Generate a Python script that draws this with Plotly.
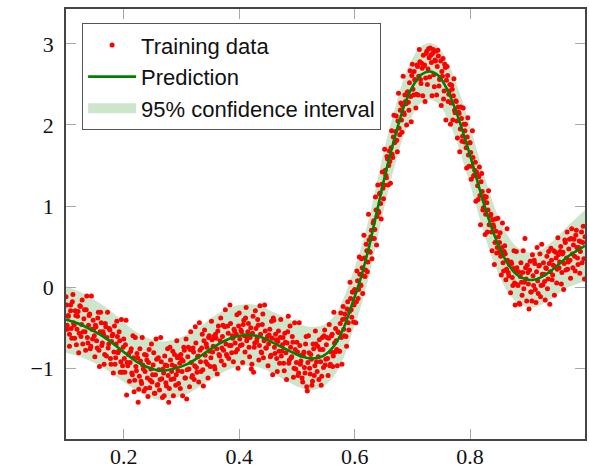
import plotly.graph_objects as go

# ---- Prediction (GP mean) ----
pred_x = [0.100, 0.125, 0.150, 0.175, 0.200, 0.225, 0.250, 0.265, 0.285, 0.310,
          0.335, 0.360, 0.385, 0.410, 0.435, 0.460, 0.485, 0.510, 0.525, 0.545,
          0.565, 0.580, 0.595, 0.610, 0.625, 0.640, 0.655, 0.670, 0.685, 0.700,
          0.715, 0.730, 0.745, 0.760, 0.775, 0.790, 0.805, 0.820, 0.835, 0.850,
          0.865, 0.880, 0.895, 0.910, 0.925, 0.940, 0.955, 0.970, 0.985, 0.999]
pred_y = [-0.40, -0.46, -0.55, -0.66, -0.80, -0.93, -1.01, -1.03, -1.01, -0.95,
          -0.84, -0.72, -0.63, -0.59, -0.61, -0.69, -0.78, -0.86, -0.88, -0.85,
          -0.72, -0.52, -0.22, 0.10, 0.50, 0.98, 1.45, 1.86, 2.22, 2.47,
          2.62, 2.66, 2.61, 2.44, 2.18, 1.86, 1.50, 1.12, 0.78, 0.50,
          0.29, 0.16, 0.10, 0.09, 0.13, 0.20, 0.29, 0.38, 0.45, 0.51]
ci_half = [0.41, 0.40, 0.39, 0.38, 0.37, 0.36, 0.36, 0.36, 0.36, 0.37,
           0.37, 0.38, 0.38, 0.38, 0.38, 0.38, 0.39, 0.39, 0.39, 0.38,
           0.37, 0.37, 0.36, 0.36, 0.36, 0.36, 0.36, 0.35, 0.35, 0.35,
           0.35, 0.35, 0.35, 0.35, 0.35, 0.36, 0.36, 0.36, 0.36, 0.35,
           0.35, 0.34, 0.34, 0.34, 0.34, 0.35, 0.36, 0.38, 0.41, 0.44]

# ---- Training data read (approximately) from the picture, first half ----
train_x_a = [
 0.101,0.102,0.104,0.106,0.108,0.109, 0.111,0.113,0.115,0.117,0.119, 0.121,0.123,0.125,0.127,0.129,
 0.131,0.133,0.135,0.137,0.139, 0.141,0.143,0.145,0.147,0.149, 0.151,0.153,0.155,0.157,0.159,
 0.161,0.163,0.165,0.167,0.169, 0.171,0.173,0.175,0.177,0.179, 0.181,0.183,0.185,0.187,0.189,
 0.191,0.193,0.195,0.197,0.199, 0.201,0.203,0.205,0.207,0.209, 0.211,0.213,0.215,0.217,0.219,
 0.221,0.223,0.225,0.227,0.229, 0.231,0.233,0.235,0.237,0.239, 0.241,0.243,0.245,0.247,0.249,
 0.251,0.253,0.255,0.257,0.259, 0.261,0.263,0.265,0.267,0.269, 0.271,0.273,0.275,0.277,0.279,
 0.281,0.283,0.285,0.287,0.289, 0.291,0.293,0.295,0.297,0.299, 0.301,0.303,0.305,0.307,0.309,
 0.311,0.313,0.315,0.317,0.319, 0.321,0.323,0.325,0.327,0.329, 0.331,0.333,0.335,0.337,0.339,
 0.341,0.343,0.345,0.347,0.349, 0.351,0.353,0.355,0.357,0.359, 0.361,0.363,0.365,0.367,0.369,
 0.371,0.373,0.375,0.377,0.379, 0.381,0.383,0.385,0.387,0.389, 0.391,0.393,0.395,0.397,0.399,
 0.401,0.403,0.405,0.407,0.409, 0.411,0.413,0.415,0.417,0.419, 0.421,0.423,0.425,0.427,0.429,
 0.431,0.433,0.435,0.437,0.439, 0.441,0.443,0.445,0.447,0.449, 0.451,0.453,0.455,0.457,0.459,
 0.461,0.463,0.465,0.467,0.469, 0.471,0.473,0.475,0.477,0.479, 0.481,0.483,0.485,0.487,0.489,
 0.491,0.493,0.495,0.497,0.499, 0.501,0.503,0.505,0.507,0.509, 0.511,0.513,0.515,0.517,0.519,
 0.521,0.523,0.525,0.527,0.529, 0.531,0.533,0.535,0.537,0.539, 0.541,0.543,0.545,0.547,0.549,
 0.551,0.553,0.555,0.557,0.559, 0.561,0.563,0.565,0.567,0.569, 0.571,0.573,0.575,0.577,0.579,
 0.581,0.583,0.585,0.587,0.589, 0.591,0.593,0.595,0.597,0.599, 0.601,0.603,0.605,0.607,0.609,
 0.611,0.613,0.615,0.617,0.619, 0.621,0.623,0.625,0.627,0.629, 0.631,0.633,0.635,0.637,0.639,
 0.641,0.643,0.645,0.647,0.649, 0.651,0.653,0.655,0.657,0.659, 0.661,0.663,0.665,0.667,0.669,
 0.671,0.673,0.675,0.677,0.679, 0.681,0.683,0.685,0.687,0.689, 0.691,0.693,0.695,0.697,0.699,
 0.701,0.703,0.705,0.707,0.709, 0.711,0.713,0.715,0.717,0.719, 0.721,0.723,0.725,0.727,0.729,
 0.731,0.733,0.735,0.737,0.739, 0.741,0.743,0.745,0.747,0.749, 0.751,0.753,0.755,0.757,0.759,
 0.761,0.763,0.765,0.767,0.769, 0.771,0.773,0.775,0.777,0.779, 0.781,0.783,0.785,0.787,0.789,
 0.791,0.793,0.795,0.797,0.799, 0.801,0.803,0.805,0.807,0.809, 0.811,0.813,0.815,0.817,0.819,
 0.821,0.823,0.825,0.827,0.829, 0.831,0.833,0.835,0.837,0.839, 0.841,0.843,0.845,0.847,0.849,
 0.851,0.853,0.855,0.857,0.859, 0.861,0.863,0.865,0.867,0.869, 0.871,0.873,0.875,0.877,0.879,
 0.881,0.883,0.885,0.887,0.889, 0.891,0.893,0.895,0.897,0.899, 0.901,0.903,0.905,0.907,0.909,
 0.911,0.913,0.915,0.917,0.919, 0.921,0.923,0.925,0.927,0.929, 0.931,0.933,0.935,0.937,0.939,
 0.941,0.943,0.945,0.947,0.949, 0.951,0.953,0.955,0.957,0.959, 0.961,0.963,0.965,0.967,0.969,
 0.971,0.973,0.975,0.977,0.979, 0.981,0.983,0.985,0.987,0.989, 0.991,0.993,0.995,0.997,0.999]
train_y_a = [
 -0.22,-0.47,-0.36,-0.58,-0.29,-0.51, -0.18,-0.44,-0.63,-0.35,-0.52, -0.30,-0.57,-0.24,-0.46,-0.70,
 -0.39,-0.55,-0.28,-0.62,-0.47, -0.33,-0.73,-0.52,-0.41,-0.60, -0.47,-0.66,-0.38,-0.78,-0.55,
 -0.44,-0.69,-0.58,-0.83,-0.49, -0.62,-0.75,-0.51,-0.88,-0.67, -0.58,-0.80,-0.95,-0.70,-0.61,
 -0.79,-0.66,-0.92,-1.05,-0.74, -0.88,-0.71,-1.33,-0.97,-0.82, -0.93,-0.76,-1.08,-0.87,-1.15,
 -0.98,-0.82,-1.42,-1.10,-0.91, -1.19,-0.96,-1.28,-1.04,-0.84, -1.12,-0.93,-1.24,-1.01,-1.17,
 -0.96,-1.31,-1.08,-0.89,-1.20, -1.02,-1.14,-0.92,-1.36,-1.06, -0.85,-1.18,-0.97,-1.09,-1.25,
 -0.90,-1.04,-0.79,-1.13,-0.98, -1.08,-0.87,-1.19,-0.94,-0.83, -1.04,-0.91,-0.78,-1.12,-1.38,
 -0.86,-1.01,-0.77,-0.93,-1.09, -0.80,-0.97,-0.69,-1.05,-0.85, -0.44,-0.92,-0.75,-1.02,-0.66,
 -0.84,-0.70,-0.95,-0.62,-0.79, -0.87,-0.65,-0.73,-0.98,-0.58, -0.76,-0.54,-0.83,-0.66,-0.91,
 -0.61,-0.78,-0.49,-0.70,-0.85, -0.57,-0.72,-0.45,-0.81,-0.63, -0.52,-0.69,-0.58,-0.77,-0.48,
 -0.64,-0.53,-0.71,-0.46,-0.60, -0.38,-0.66,-0.55,-0.74,-0.62, -1.01,-0.57,-1.05,-0.69,-0.51,
 -0.63,-0.47,-0.72,-0.58,-0.81, -0.33,-0.66,-0.54,-0.75,-0.61, -0.70,-0.52,-0.84,-0.63,-0.38,
 -0.74,-0.58,-0.88,-0.67,-0.79, -0.62,-0.85,-0.71,-0.94,-0.57, -0.81,-0.69,-0.36,-0.90,-0.74,
 -0.86,-0.68,-1.00,-0.77,-0.93, -0.80,-1.06,-0.72,-0.91,-1.12, -0.84,-0.99,-0.70,-1.23,-0.93,
 -0.81,-1.07,-0.89,-1.16,-0.76, -0.97,-0.70,-1.04,-0.86,-0.65, -0.92,-1.10,-0.77,-0.60,-0.96,
 -0.71,-0.88,-0.63,-0.97,-0.80, -0.58,-0.85,-0.69,-0.51,-0.77, -0.55,-0.79,-0.45,-0.62,-0.40,
 -0.52,-0.33,-0.61,-0.27,-0.44, -0.30,-0.14,-0.37,-0.06,-0.22, -0.05,-0.18,0.08,-0.03,0.16,
 0.02,0.24,0.14,0.36,0.21, 0.45,0.31,0.58,0.43,0.70, 0.60,0.82,0.71,0.95,0.87,
 0.94,1.15,1.03,1.27,1.22, 1.26,1.44,1.35,1.58,1.50, 1.55,1.72,1.64,1.85,1.78,
 1.92,1.81,2.05,1.96,2.18, 2.06,2.24,2.15,2.37,2.26, 2.40,2.28,2.52,2.35,2.61,
 2.44,2.66,2.55,2.38,2.72, 2.60,2.78,2.51,2.70,2.86, 2.74,2.58,2.91,2.69,2.83,
 2.95,2.77,2.88,2.62,2.80, 2.91,2.72,2.85,2.56,2.79, 2.66,2.82,2.42,2.71,2.55,
 2.61,2.38,2.50,2.27,2.44, 2.36,2.18,2.30,2.05,2.22, 2.14,1.95,2.08,1.86,2.01,
 1.93,1.72,1.85,1.63,1.78, 1.66,1.49,1.60,1.38,1.54, 1.42,1.25,1.36,1.13,1.30,
 1.18,0.98,1.12,0.90,1.04, 0.95,0.77,0.88,0.68,0.83, 0.74,0.55,0.69,0.49,0.62,
 0.55,0.38,0.49,0.30,0.44, 0.41,0.22,0.33,0.14,0.28, 0.31,0.12,0.23,0.05,0.19,
 0.24,0.02,-0.20,0.13,0.06, 0.18,-0.02,0.60,0.10,0.27, 0.04,0.21,-0.06,-0.17,0.14,
 0.33,-0.03,0.19,0.08,0.26, 0.41,0.02,0.16,0.30,0.07, 0.24,0.38,0.10,0.29,0.19,
 0.33,0.15,0.45,0.25,0.36, 0.22,0.40,0.31,0.50,0.18, 0.43,0.29,0.55,0.36,0.22,
 0.47,0.33,0.60,0.41,0.52, 0.38,0.64,0.49,0.28,0.57, 0.44,0.68,0.55,0.35,0.62]

# ---- Training data, second half ----
train_x_b = [
 0.100,0.102,0.104,0.106,0.108, 0.110,0.112,0.114,0.116,0.118, 0.120,0.122,0.124,0.126,0.128,
 0.130,0.132,0.134,0.136,0.138, 0.140,0.142,0.144,0.146,0.148, 0.150,0.152,0.154,0.156,0.158,
 0.160,0.162,0.164,0.166,0.168, 0.170,0.172,0.174,0.176,0.178, 0.180,0.182,0.184,0.186,0.188,
 0.190,0.192,0.194,0.196,0.198, 0.200,0.202,0.204,0.206,0.208, 0.210,0.212,0.214,0.216,0.218,
 0.220,0.222,0.224,0.226,0.228, 0.230,0.232,0.234,0.236,0.238, 0.240,0.242,0.244,0.246,0.248,
 0.250,0.252,0.254,0.256,0.258, 0.260,0.262,0.264,0.266,0.268, 0.270,0.272,0.274,0.276,0.278,
 0.280,0.282,0.284,0.286,0.288, 0.290,0.292,0.294,0.296,0.298, 0.300,0.302,0.304,0.306,0.308,
 0.310,0.312,0.314,0.316,0.318, 0.320,0.322,0.324,0.326,0.328, 0.330,0.332,0.334,0.336,0.338,
 0.340,0.342,0.344,0.346,0.348, 0.350,0.352,0.354,0.356,0.358, 0.360,0.362,0.364,0.366,0.368,
 0.370,0.372,0.374,0.376,0.378, 0.380,0.382,0.384,0.386,0.388, 0.390,0.392,0.394,0.396,0.398,
 0.400,0.402,0.404,0.406,0.408, 0.410,0.412,0.414,0.416,0.418, 0.420,0.422,0.424,0.426,0.428,
 0.430,0.432,0.434,0.436,0.438, 0.440,0.442,0.444,0.446,0.448, 0.450,0.452,0.454,0.456,0.458,
 0.460,0.462,0.464,0.466,0.468, 0.470,0.472,0.474,0.476,0.478, 0.480,0.482,0.484,0.486,0.488,
 0.490,0.492,0.494,0.496,0.498, 0.500,0.502,0.504,0.506,0.508, 0.510,0.512,0.514,0.516,0.518,
 0.520,0.522,0.524,0.526,0.528, 0.530,0.532,0.534,0.536,0.538, 0.540,0.542,0.544,0.546,0.548,
 0.550,0.552,0.554,0.556,0.558, 0.560,0.562,0.564,0.566,0.568, 0.570,0.572,0.574,0.576,0.578,
 0.580,0.582,0.584,0.586,0.588, 0.590,0.592,0.594,0.596,0.598, 0.600,0.602,0.604,0.606,0.608,
 0.610,0.612,0.614,0.616,0.618, 0.620,0.622,0.624,0.626,0.628, 0.630,0.632,0.634,0.636,0.638,
 0.640,0.642,0.644,0.646,0.648, 0.650,0.652,0.654,0.656,0.658, 0.660,0.662,0.664,0.666,0.668,
 0.670,0.672,0.674,0.676,0.678, 0.680,0.682,0.684,0.686,0.688, 0.690,0.692,0.694,0.696,0.698,
 0.700,0.702,0.704,0.706,0.708, 0.710,0.712,0.714,0.716,0.718, 0.720,0.722,0.724,0.726,0.728,
 0.730,0.732,0.734,0.736,0.738, 0.740,0.742,0.744,0.746,0.748, 0.750,0.752,0.754,0.756,0.758,
 0.760,0.762,0.764,0.766,0.768, 0.770,0.772,0.774,0.776,0.778, 0.780,0.782,0.784,0.786,0.788,
 0.790,0.792,0.794,0.796,0.798, 0.800,0.802,0.804,0.806,0.808, 0.810,0.812,0.814,0.816,0.818,
 0.820,0.822,0.824,0.826,0.828, 0.830,0.832,0.834,0.836,0.838, 0.840,0.842,0.844,0.846,0.848,
 0.850,0.852,0.854,0.856,0.858, 0.860,0.862,0.864,0.866,0.868, 0.870,0.872,0.874,0.876,0.878,
 0.880,0.882,0.884,0.886,0.888, 0.890,0.892,0.894,0.896,0.898, 0.900,0.902,0.904,0.906,0.908,
 0.910,0.912,0.914,0.916,0.918, 0.920,0.922,0.924,0.926,0.928, 0.930,0.932,0.934,0.936,0.938,
 0.940,0.942,0.944,0.946,0.948, 0.950,0.952,0.954,0.956,0.958, 0.960,0.962,0.964,0.966,0.968,
 0.970,0.972,0.974,0.976,0.978, 0.980,0.982,0.984,0.986,0.988, 0.990,0.992,0.994,0.996,0.998]
train_y_b = [
 -0.12,-0.52,-0.35,-0.73,-0.22, -0.63,-0.09,-0.47,-0.29,-0.71, -0.36,-0.81,-0.23,-0.61,-0.16,
 -0.55,-0.28,-0.78,-0.11,-0.69, -0.35,-0.76,-0.11,-0.64,-0.52, -0.86,-0.49,-0.75,-0.31,-0.98,
 -0.31,-0.72,-0.55,-0.95,-0.45, -0.85,-0.31,-0.70,-0.53,-0.95, -0.60,-1.06,-0.48,-0.87,-0.42,
 -0.81,-0.55,-1.05,-0.40,-0.97, -0.64,-1.05,-0.41,-0.93,-0.83, -1.16,-0.79,-1.06,-0.60,-1.29,
 -0.62,-1.03,-0.87,-1.26,-0.76, -1.16,-0.62,-1.01,-0.83,-1.25, -0.90,-1.35,-0.77,-1.15,-0.70,
 -1.08,-0.81,-1.31,-0.64,-1.21, -0.87,-1.27,-0.62,-1.13,-1.01, -1.34,-0.96,-1.22,-0.76,-1.42,
 -0.74,-1.14,-0.96,-1.34,-0.83, -1.21,-0.66,-1.03,-0.85,-1.25, -0.89,-1.34,-0.74,-1.12,-0.64,
 -1.02,-0.74,-1.23,-0.55,-1.11, -0.75,-1.14,-0.49,-0.99,-0.86, -1.17,-0.78,-1.04,-0.58,-1.22,
 -0.53,-0.92,-0.74,-1.12,-0.60, -0.98,-0.42,-0.80,-0.61,-1.01, -0.63,-1.07,-0.48,-0.85,-0.38,
 -0.75,-0.47,-0.96,-0.28,-0.83, -0.48,-0.88,-0.22,-0.72,-0.60, -0.92,-0.54,-0.80,-0.34,-1.00,
 -0.32,-0.72,-0.55,-0.93,-0.41, -0.80,-0.25,-0.63,-0.45,-0.86, -0.50,-0.95,-0.36,-0.74,-0.29,
 -0.67,-0.40,-0.90,-0.23,-0.80, -0.46,-0.87,-0.22,-0.75,-0.64, -0.97,-0.59,-0.86,-0.42,-1.08,
 -0.41,-0.82,-0.65,-1.04,-0.54, -0.94,-0.40,-0.79,-0.62,-1.03, -0.68,-1.14,-0.55,-0.94,-0.48,
 -0.87,-0.61,-1.11,-0.44,-1.01, -0.68,-1.09,-0.44,-0.95,-0.84, -1.17,-0.80,-1.06,-0.61,-1.28,
 -0.60,-1.00,-0.83,-1.21,-0.70, -1.09,-0.54,-0.92,-0.73,-1.14, -0.77,-1.21,-0.62,-0.99,-0.53,
 -0.89,-0.62,-1.09,-0.46,-0.95, -0.60,-0.98,-0.31,-0.80,-0.66, -0.97,-0.56,-0.79,-0.32,-0.95,
 -0.24,-0.60,-0.39,-0.73,-0.18, -0.53,0.06,-0.28,-0.06,-0.43, -0.03,-0.44,0.20,-0.14,0.37,
 0.03,0.35,-0.08,0.64,0.13, 0.53,0.19,0.90,0.44,0.62, 0.35,0.79,0.60,1.11,0.52,
 1.26,0.92,1.16,0.84,1.42, 1.09,1.70,1.38,1.61,1.26, 1.68,1.28,1.93,1.60,2.12,
 1.79,2.11,1.67,2.39,1.88, 2.27,1.91,2.60,2.13,2.29, 2.00,2.41,2.18,2.67,2.04,
 2.75,2.37,2.56,2.21,2.74, 2.37,2.93,2.56,2.76,2.36, 2.73,2.29,2.88,2.50,2.94,
 2.59,2.86,2.36,2.93,2.47, 2.79,2.37,2.92,2.48,2.58, 2.24,2.60,2.32,2.75,2.06,
 2.72,2.29,2.42,2.01,2.49, 2.06,2.57,2.15,2.29,1.84, 2.16,1.67,2.22,1.80,2.21,
 1.79,2.01,1.47,2.09,1.49, 1.78,1.33,1.93,1.37,1.44, 1.06,1.39,1.08,1.48,0.77,
 1.40,0.95,1.08,0.65,1.11, 0.68,1.19,0.77,0.90,0.45, 0.77,0.28,0.84,0.42,0.85,
 0.43,0.67,0.15,0.79,0.20, 0.51,0.09,0.72,0.18,0.28, -0.07,0.29,0.02,0.45,-0.22,
 0.44,0.03,0.19,-0.21,0.30, -0.10,0.45,0.06,0.24,-0.17, 0.18,-0.27,0.32,-0.06,0.40,
 0.02,0.29,-0.19,0.49,-0.08, 0.27,-0.12,0.53,0.03,0.16, -0.16,0.23,-0.02,0.44,-0.21,
 0.48,0.09,0.27,-0.10,0.43, 0.05,0.61,0.24,0.44,0.04, 0.41,-0.03,0.58,0.21,0.68,
 0.31,0.59,0.11,0.72,0.24, 0.59,0.20,0.70,0.36,0.49, 0.17,0.56,0.30,0.75,0.10]

train_x = train_x_a + train_x_b
train_y = train_y_a + train_y_b

upper = [m + h for m, h in zip(pred_y, ci_half)]
lower = [m - h for m, h in zip(pred_y, ci_half)]

BAND_COLOR = "rgba(0,128,0,0.2)"

fig = go.Figure()
fig.add_trace(go.Scatter(x=pred_x, y=upper, mode="lines", line=dict(width=0, shape="spline"),
                         showlegend=False, hoverinfo="skip"))
fig.add_trace(go.Scatter(x=pred_x, y=lower, mode="lines", line=dict(width=0, shape="spline"),
                         fill="tonexty", fillcolor=BAND_COLOR,
                         showlegend=False, hoverinfo="skip"))
# legend swatch for the band (legend-only entry)
fig.add_trace(go.Scatter(x=[None], y=[None], mode="lines",
                         line=dict(color=BAND_COLOR, width=17),
                         name="95% confidence interval", legendrank=3))
fig.add_trace(go.Scatter(x=train_x, y=train_y, mode="markers",
                         marker=dict(color="#ff0000", size=5, line=dict(width=0)),
                         name="Training data", legendrank=1))
fig.add_trace(go.Scatter(x=pred_x, y=pred_y, mode="lines",
                         line=dict(color="#008000", width=2.6, shape="spline"),
                         name="Prediction", legendrank=2))

axis_common = dict(
    showgrid=False, zeroline=False, showline=True, mirror="ticks",
    linecolor="#444", linewidth=1.5, ticks="inside", ticklen=10,
    tickcolor="#a8a8a8", tickwidth=1.2, automargin=False,
    tickfont=dict(family="Liberation Serif, DejaVu Serif, serif", size=22, color="#111"),
)
fig.update_xaxes(range=[0.1, 0.999], tickvals=[0.2, 0.4, 0.6, 0.8],
                 ticktext=["0.2", "0.4", "0.6", "0.8"], ticklabelstandoff=-3,
                 **axis_common)
fig.update_yaxes(range=[-1.873, 3.43], tickvals=[-1, 0, 1, 2, 3],
                 ticklabelstandoff=6, **axis_common)

fig.update_layout(
    width=589, height=470,
    margin=dict(l=66, r=4, t=9, b=31),
    plot_bgcolor="white", paper_bgcolor="white",
    legend=dict(x=0.031, y=0.967, xanchor="left", yanchor="top",
                traceorder="normal", itemwidth=48,
                bgcolor="white", bordercolor="#555", borderwidth=1,
                font=dict(family="Liberation Sans, Arial, sans-serif", size=22, color="#111"),
                tracegroupgap=0),
)

fig.write_html("out.html", config={"displayModeBar": False},
               post_script="document.body.style.margin='0';document.body.style.overflow='hidden';")
